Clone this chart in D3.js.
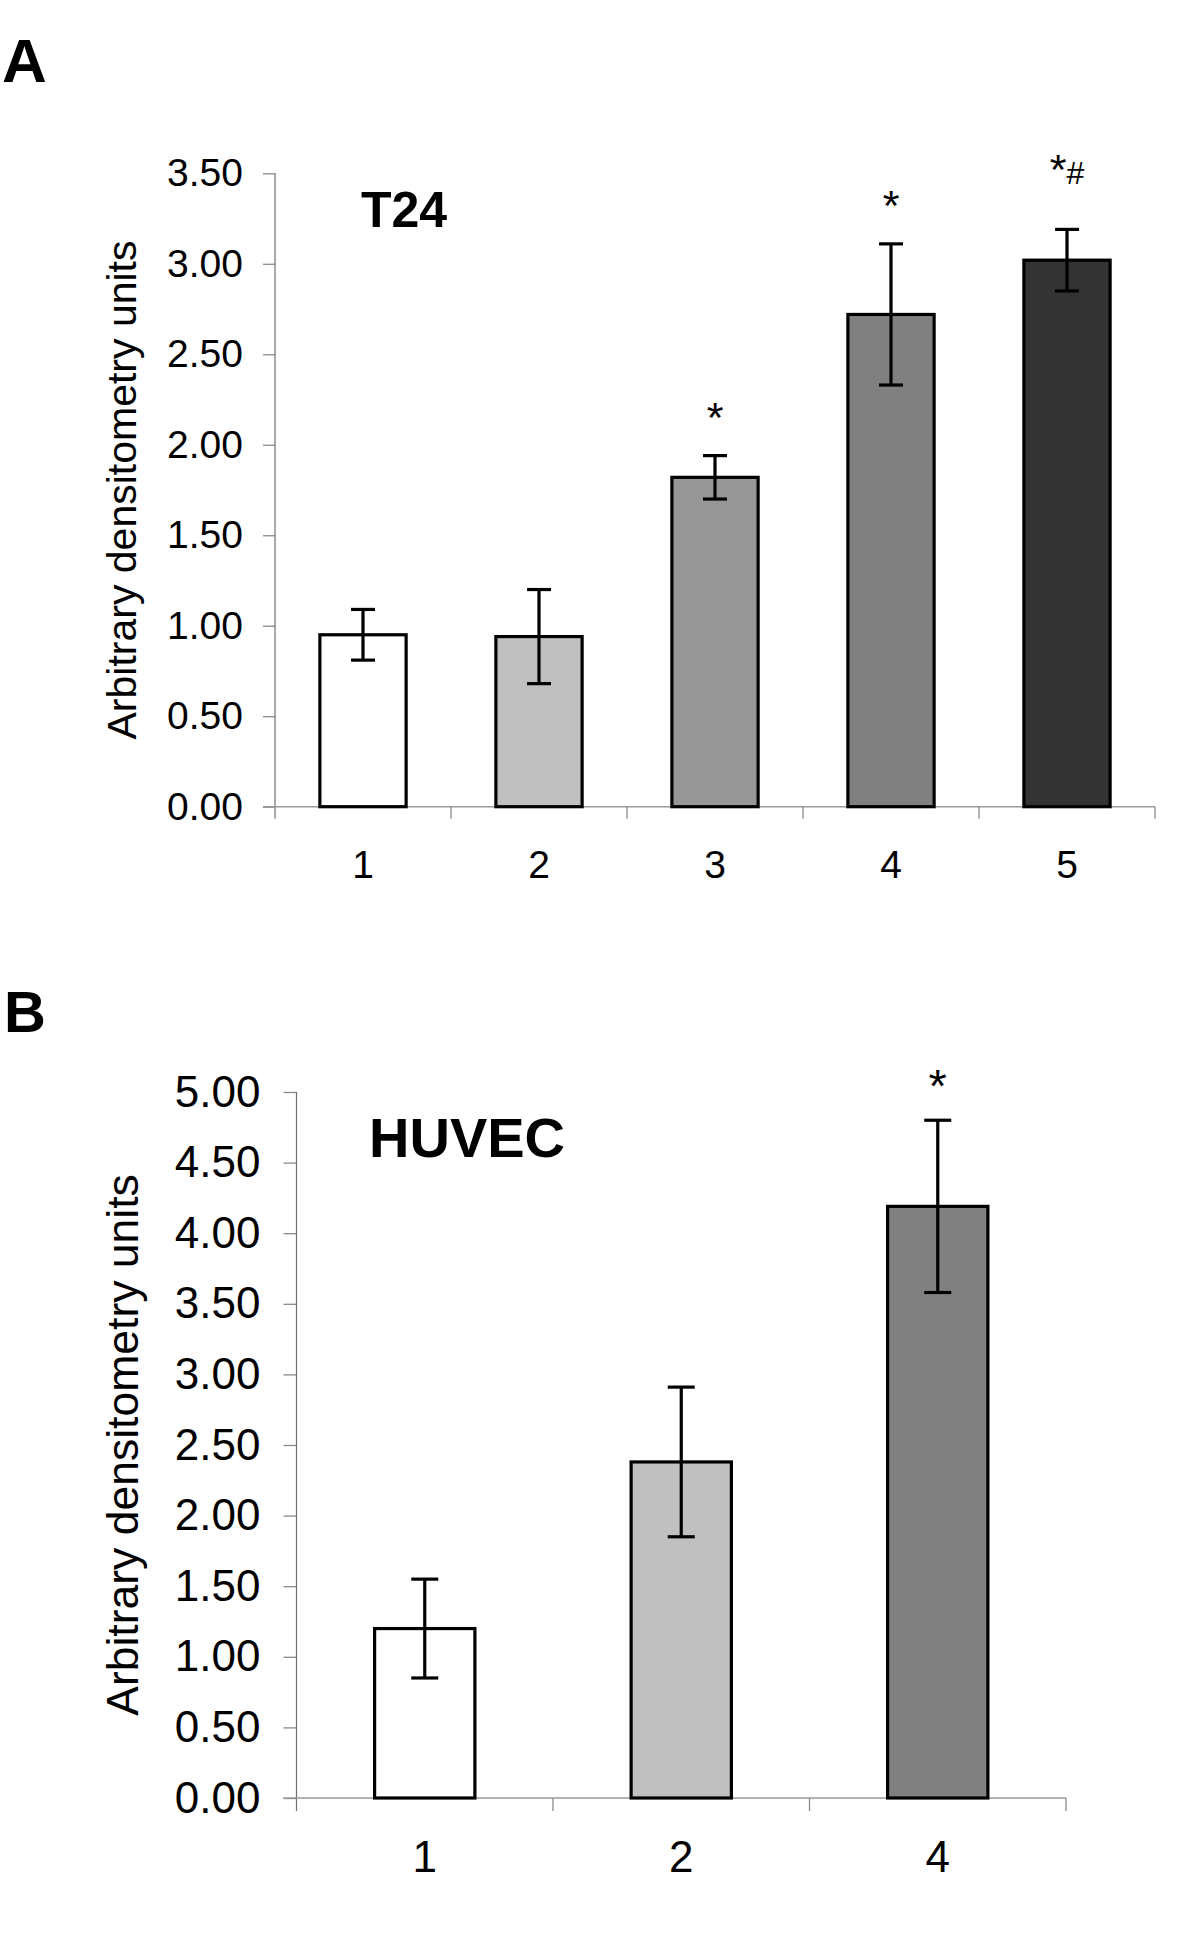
<!DOCTYPE html>
<html>
<head>
<meta charset="utf-8">
<script src="https://cdn.jsdelivr.net/npm/d3@7"></script>
<style>
  html, body { margin: 0; padding: 0; background: #ffffff; }
  svg { display: block; }
  text { font-family: "Liberation Sans", Arial, Helvetica, sans-serif; fill: #000; }
</style>
</head>
<body>
<svg id="chart" width="1200" height="1943"></svg>
<script>
// ---------- Panel A data (T24) ----------
const categoriesA = ["1", "2", "3", "4", "5"];
const meansA = [0.95, 0.94, 1.82, 2.72, 3.02];
const errorsA = [0.14, 0.26, 0.12, 0.39, 0.17];
const fillsA = ["#ffffff", "#c0c0c0", "#969696", "#808080", "#333333"];
const yTicksA = [0, 0.5, 1.0, 1.5, 2.0, 2.5, 3.0, 3.5];
const annotCatsA = ["3", "4", "5"];
const annotLabelsA = ["*", "*", "*#"];
const annotLevelsA = [2.07, 3.24, 3.44];

// ---------- Panel B data (HUVEC) ----------
const categoriesB = ["1", "2", "4"];
const meansB = [1.20, 2.38, 4.19];
const errorsB = [0.35, 0.53, 0.61];
const fillsB = ["#ffffff", "#c0c0c0", "#808080"];
const yTicksB = [0, 0.5, 1.0, 1.5, 2.0, 2.5, 3.0, 3.5, 4.0, 4.5, 5.0];
const annotCatsB = ["4"];
const annotLabelsB = ["*"];
const annotLevelsB = [4.93];

const yLabelText = "Arbitrary densitometry units";

const svg = d3.select("#chart");

function drawPanel(cfg) {
  const g = svg.append("g");
  const x = d3.scaleBand().domain(cfg.cats).range([cfg.x0, cfg.x1]).padding(0);
  const y = d3.scaleLinear().domain([0, cfg.yMax]).range([cfg.yBottom, cfg.yTop]);
  const bw = x.bandwidth() * cfg.barFrac;

  // Panel letter
  g.append("text").attr("x", cfg.letterX).attr("y", cfg.letterY)
    .attr("font-size", cfg.letterSize).attr("font-weight", "bold").text(cfg.letter);

  // Title
  g.append("text").attr("x", cfg.titleX).attr("y", cfg.titleY)
    .attr("font-size", cfg.titleSize).attr("font-weight", "bold").text(cfg.title);

  // Y axis (ticks + labels)
  const yAxis = d3.axisLeft(y).tickValues(cfg.yTicks).tickFormat(d3.format(".2f"))
    .tickSize(cfg.tickLen).tickPadding(cfg.tickPad).tickSizeOuter(0);
  const ya = g.append("g").attr("transform", `translate(${cfg.x0},0)`).call(yAxis);
  ya.select(".domain").remove();
  ya.selectAll(".tick line").attr("stroke", "#8a8a8a").attr("stroke-width", 1.3);
  ya.selectAll(".tick text").attr("font-size", cfg.tickFont)
    .attr("font-family", "'Liberation Sans', Arial, Helvetica, sans-serif").attr("fill", "#000");
  // vertical axis line (extends down to category tick length)
  g.append("line").attr("x1", cfg.x0).attr("x2", cfg.x0)
    .attr("y1", y(cfg.yMax)).attr("y2", y(0) + cfg.tickLen)
    .attr("stroke", "#707070").attr("stroke-width", 1.2);

  // X axis baseline
  g.append("line").attr("x1", cfg.x0 - cfg.tickLen).attr("x2", cfg.x1)
    .attr("y1", y(0)).attr("y2", y(0))
    .attr("stroke", "#9a9a9a").attr("stroke-width", 1.6);
  // category boundary ticks
  const bounds = cfg.cats.map(c => x(c)).concat([x(cfg.cats[cfg.cats.length - 1]) + x.bandwidth()]);
  g.selectAll(".btick").data(bounds.slice(1)).enter().append("line")
    .attr("x1", d => d).attr("x2", d => d)
    .attr("y1", y(0)).attr("y2", y(0) + cfg.tickLen)
    .attr("stroke", "#8a8a8a").attr("stroke-width", 1.3);
  // category labels
  const xAxis = d3.axisBottom(x).tickSize(0).tickPadding(0);
  const xa = g.append("g").attr("transform", `translate(0,${cfg.xLabelBase})`).call(xAxis);
  xa.select(".domain").remove();
  xa.selectAll(".tick text").attr("font-size", cfg.xFont).attr("dy", 0)
    .attr("font-family", "'Liberation Sans', Arial, Helvetica, sans-serif").attr("fill", "#000");

  // Y axis label
  g.append("text")
    .attr("transform", `translate(${cfg.yLabelX},${(y(0) + y(cfg.yMax)) / 2}) rotate(-90)`)
    .attr("text-anchor", "middle").attr("font-size", cfg.yLabelSize).text(yLabelText);

  // Bars
  const data = cfg.cats.map((c, i) => ({ c, m: cfg.means[i], e: cfg.errs[i], f: cfg.fills[i] }));
  g.selectAll(".bar").data(data).enter().append("rect")
    .attr("x", d => x(d.c) + (x.bandwidth() - bw) / 2)
    .attr("width", bw)
    .attr("y", d => y(d.m))
    .attr("height", d => y(0) - y(d.m))
    .attr("fill", d => d.f).attr("stroke", "#000").attr("stroke-width", 3.2);

  // Error bars
  const cx = d => x(d.c) + x.bandwidth() / 2;
  const eb = g.selectAll(".eb").data(data).enter().append("g");
  eb.append("line").attr("x1", cx).attr("x2", cx)
    .attr("y1", d => y(d.m + d.e)).attr("y2", d => y(d.m - d.e))
    .attr("stroke", "#000").attr("stroke-width", 3.2);
  eb.append("line").attr("x1", d => cx(d) - cfg.capW / 2).attr("x2", d => cx(d) + cfg.capW / 2)
    .attr("y1", d => y(d.m + d.e)).attr("y2", d => y(d.m + d.e))
    .attr("stroke", "#000").attr("stroke-width", 3.2);
  eb.append("line").attr("x1", d => cx(d) - cfg.capW / 2).attr("x2", d => cx(d) + cfg.capW / 2)
    .attr("y1", d => y(d.m - d.e)).attr("y2", d => y(d.m - d.e))
    .attr("stroke", "#000").attr("stroke-width", 3.2);

  // Significance annotations
  const ann = cfg.annCats.map((c, i) => ({ c, label: cfg.annLabels[i], v: cfg.annLevels[i] }));
  const at = g.selectAll(".ann").data(ann).enter().append("text")
    .attr("x", d => x(d.c) + x.bandwidth() / 2)
    .attr("y", d => y(d.v))
    .attr("text-anchor", "middle");
  at.each(function (d) {
    const t = d3.select(this);
    t.append("tspan").attr("font-size", cfg.starSize).text(d.label.charAt(0));
    if (d.label.length > 1) {
      t.append("tspan").attr("font-size", cfg.hashSize).text(d.label.slice(1));
    }
  });
}

drawPanel({
  cats: categoriesA, means: meansA, errs: errorsA, fills: fillsA, yTicks: yTicksA,
  annCats: annotCatsA, annLabels: annotLabelsA, annLevels: annotLevelsA,
  yMax: 3.5, x0: 275, x1: 1155, yTop: 173.3, yBottom: 806.7, barFrac: 0.49, capW: 24,
  tickLen: 12, tickPad: 20, tickFont: 39, xFont: 39, xLabelBase: 878,
  yLabelX: 136, yLabelSize: 41,
  letter: "A", letterX: 2, letterY: 82, letterSize: 62,
  title: "T24", titleX: 361, titleY: 227, titleSize: 50,
  starSize: 43, hashSize: 32
});

drawPanel({
  cats: categoriesB, means: meansB, errs: errorsB, fills: fillsB, yTicks: yTicksB,
  annCats: annotCatsB, annLabels: annotLabelsB, annLevels: annotLevelsB,
  yMax: 5.0, x0: 296.5, x1: 1066, yTop: 1092, yBottom: 1798, barFrac: 0.391, capW: 27,
  tickLen: 13, tickPad: 23, tickFont: 44, xFont: 44, xLabelBase: 1872,
  yLabelX: 138, yLabelSize: 44.5,
  letter: "B", letterX: 4, letterY: 1032, letterSize: 58,
  title: "HUVEC", titleX: 369, titleY: 1157, titleSize: 56,
  starSize: 47, hashSize: 30
});
</script>
</body>
</html>
